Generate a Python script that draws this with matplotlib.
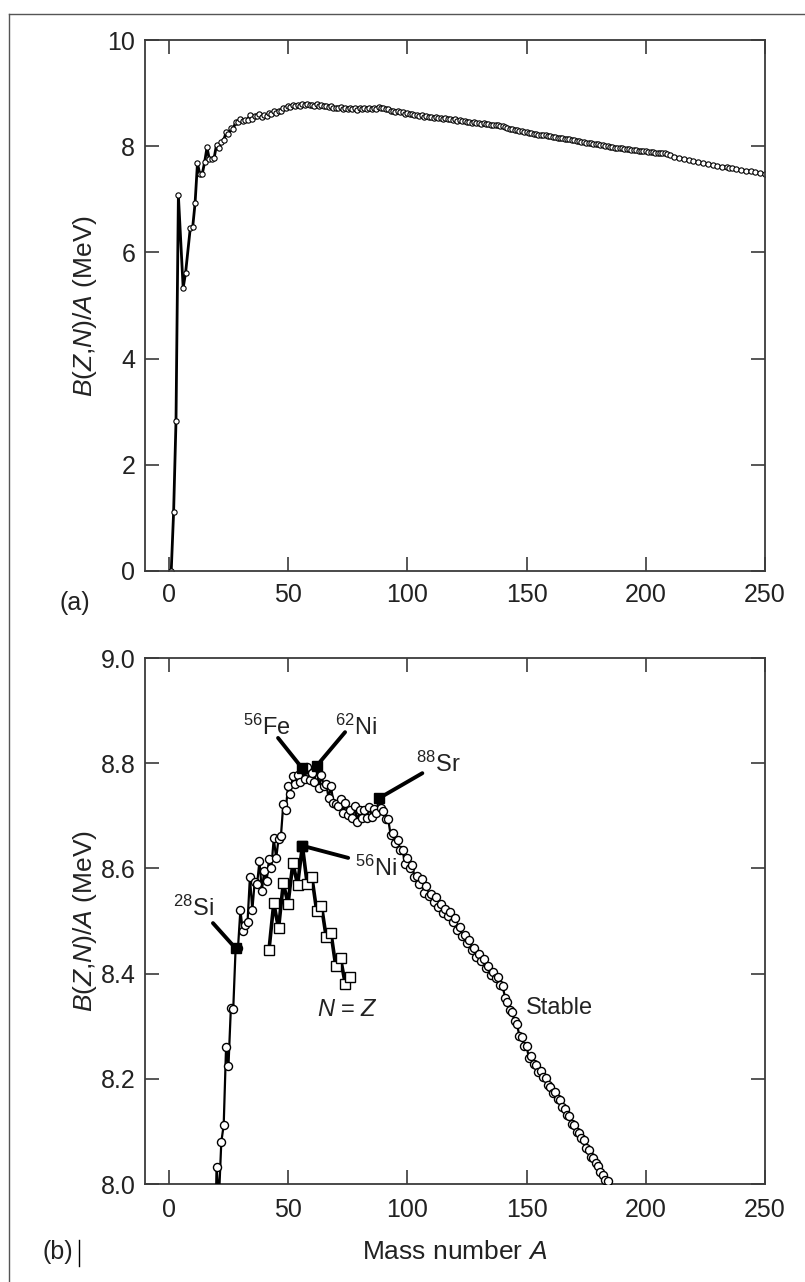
import matplotlib.pyplot as plt
from matplotlib.lines import Line2D

plt.rcParams['font.family'] = ['Liberation Sans', 'DejaVu Sans']
plt.rcParams['mathtext.fontset'] = 'custom'
plt.rcParams['mathtext.rm'] = 'Liberation Sans'
plt.rcParams['mathtext.it'] = 'Liberation Sans:italic'

# binding energy per nucleon of stable (and long-lived) nuclei, MeV
stable_A = [1, 2, 3, 4, 6, 7, 9, 10, 11, 12, 13, 14, 15, 16, 17, 18, 19, 20,
            21, 22, 23, 24, 25, 26, 27, 28, 29, 30, 31, 32, 33, 34, 35, 36, 37,
            38, 39, 40, 41, 42, 43, 44, 45, 46, 47, 48, 49, 50, 51, 52, 53, 54,
            55, 56, 57, 58, 59, 60, 61, 62, 63, 64, 65, 66, 67, 68, 69, 70, 71,
            72, 73, 74, 75, 76, 77, 78, 79, 80, 81, 82, 83, 84, 85, 86, 87, 88,
            89, 90, 91, 92, 93, 94, 95, 96, 97, 98, 99, 100, 101, 102, 103, 104,
            105, 106, 107, 108, 109, 110, 111, 112, 113, 114, 115, 116, 117, 118,
            119, 120, 121, 122, 123, 124, 125, 126, 127, 128, 129, 130, 131, 132,
            133, 134, 135, 136, 137, 138, 139, 140, 141, 142, 143, 144, 145, 146,
            147, 148, 149, 150, 151, 152, 153, 154, 155, 156, 157, 158, 159, 160,
            161, 162, 163, 164, 165, 166, 167, 168, 169, 170, 171, 172, 173, 174,
            175, 176, 177, 178, 179, 180, 181, 182, 183, 184, 185, 186, 187, 188,
            189, 190, 191, 192, 193, 194, 195, 196, 197, 198, 199, 200, 201, 202,
            203, 204, 205, 206, 207, 208, 209, 210, 212, 214, 216, 218, 220, 222,
            224, 226, 228, 230, 232, 234, 235, 236, 238, 240, 242, 244, 246, 248,
            250]
stable_BA = [0.0, 1.112, 2.827, 7.074, 5.332, 5.606, 6.463, 6.475, 6.928, 7.680,
             7.470, 7.476, 7.699, 7.976, 7.751, 7.767, 7.779, 8.032,
             7.972, 8.080, 8.112, 8.261, 8.224, 8.334, 8.332, 8.448, 8.449, 8.521,
             8.481, 8.493, 8.498, 8.584, 8.520, 8.575, 8.570,
             8.614, 8.557, 8.595, 8.576, 8.617, 8.601, 8.658, 8.619, 8.656, 8.661,
             8.723, 8.711, 8.756, 8.742, 8.776, 8.760, 8.778,
             8.765, 8.790, 8.770, 8.792, 8.768, 8.781, 8.765, 8.795, 8.752, 8.777,
             8.757, 8.760, 8.734, 8.756, 8.725, 8.722, 8.718,
             8.732, 8.705, 8.725, 8.701, 8.711, 8.695, 8.718, 8.688, 8.711, 8.696,
             8.711, 8.696, 8.717, 8.697, 8.712, 8.705, 8.733,
             8.714, 8.710, 8.693, 8.693, 8.664, 8.667, 8.649, 8.654, 8.635, 8.635,
             8.609, 8.619, 8.601, 8.607, 8.584, 8.585,
             8.571, 8.580, 8.554, 8.567, 8.548, 8.551, 8.537, 8.545, 8.527, 8.532,
             8.516, 8.523, 8.510, 8.517,
             8.499, 8.505, 8.482, 8.488, 8.472, 8.473, 8.458, 8.463, 8.445, 8.449,
             8.431, 8.438, 8.424, 8.428,
             8.410, 8.414, 8.398, 8.403, 8.392, 8.394, 8.378, 8.376, 8.354, 8.346,
             8.330, 8.327, 8.309, 8.304,
             8.281, 8.280, 8.263, 8.262, 8.240, 8.244, 8.229, 8.227, 8.213, 8.215,
             8.204, 8.202, 8.189, 8.184,
             8.173, 8.174, 8.162, 8.159, 8.147, 8.142, 8.132, 8.130, 8.115, 8.112,
             8.098, 8.097, 8.087, 8.084,
             8.069, 8.064, 8.052, 8.049, 8.039, 8.035, 8.023, 8.018, 8.008, 8.005,
             7.991, 7.989, 7.974, 7.974,
             7.963, 7.963, 7.948, 7.949, 7.938, 7.936, 7.927, 7.927, 7.916, 7.912,
             7.905, 7.906, 7.898, 7.897,
             7.886, 7.880, 7.878, 7.875, 7.870, 7.868, 7.848, 7.834, 7.804, 7.785,
             7.762, 7.740, 7.718, 7.695,
             7.678, 7.662, 7.645, 7.630, 7.615, 7.601, 7.591, 7.586, 7.570, 7.556,
             7.541, 7.525, 7.510, 7.497,
             7.482]

# N = Z nuclei
nz_A = [42, 44, 46, 48, 50, 52, 54, 56, 58, 60, 62, 64, 66, 68, 70, 72, 74, 76]
nz_BA = [8.445, 8.534, 8.486, 8.572, 8.533, 8.610, 8.569, 8.643, 8.571, 8.583,
         8.519, 8.529, 8.469, 8.477, 8.414, 8.429, 8.380, 8.394]

# highlighted nuclei
marked_names = [r'$^{28}$Si', r'$^{56}$Fe', r'$^{62}$Ni', r'$^{88}$Sr', r'$^{56}$Ni']
marked_A = [28, 56, 62, 88, 56]
marked_BA = [8.448, 8.790, 8.795, 8.733, 8.643]

fig = plt.figure(figsize=(8.05, 12.82), dpi=100)
W, H = 805.0, 1282.0

ax1 = fig.add_axes([145 / W, 1 - 571 / H, 620 / W, 531 / H])
ax2 = fig.add_axes([145 / W, 1 - 1184 / H, 620 / W, 526 / H])

for ax in (ax1, ax2):
    for s in ax.spines.values():
        s.set_color('#3a3a3a')
        s.set_linewidth(1.3)
    ax.tick_params(direction='in', length=10, width=1.2, top=True, right=True,
                   labelsize=18, colors='#3a3a3a', labelcolor='#222222')
    ax.tick_params(axis='y', pad=7)
    ax.set_xlim(-10, 250)
    ax.set_xticks([0, 50, 100, 150, 200, 250])
    ax.set_ylabel(r'$B$($Z$,$N$)/$A$ (MeV)', fontsize=19, color='#222222')
    ax.yaxis.set_label_coords(-0.074, 0.5)

# (a) full range
ax1.plot(stable_A, stable_BA, color='black', lw=2.0, marker='o', ms=3.8,
         mfc='white', mec='black', mew=0.8)
ax1.set_ylim(0, 10)
ax1.set_yticks([0, 2, 4, 6, 8, 10])
ax1.tick_params(axis='x', pad=8.5)

# (b) zoom near the maximum
ax2.plot(stable_A, stable_BA, color='black', lw=1.6, marker='o', ms=5.8,
         mfc='white', mec='black', mew=1.0, zorder=3)
ax2.plot(nz_A, nz_BA, color='black', lw=2.6, marker='s', ms=7,
         mfc='white', mec='black', mew=1.0, zorder=3)
ax2.plot(marked_A, marked_BA, ls='none', marker='s', ms=7, color='black', zorder=4)
ax2.set_ylim(8.0, 9.0)
ax2.set_yticks([8.0, 8.2, 8.4, 8.6, 8.8, 9.0])
ax2.set_yticklabels(['8.0', '8.2', '8.4', '8.6', '8.8', '9.0'])
ax2.tick_params(axis='x', pad=10)

# label text position, leader start
label_pos = [(10.1, 8.525), (41.0, 8.868), (78.5, 8.868), (113.0, 8.797), (86.8, 8.601)]
leader_start = [(18.5, 8.496), (45.8, 8.848), (73.9, 8.859), (106.3, 8.781), (75.2, 8.620)]
for name, a, b, lp, ls in zip(marked_names, marked_A, marked_BA, label_pos, leader_start):
    ax2.annotate('', xy=(a, b), xytext=ls,
                 arrowprops=dict(arrowstyle='-', lw=2.8, color='black',
                                 shrinkA=0, shrinkB=4))
    ax2.text(lp[0], lp[1], name, fontsize=17, ha='center', va='center', color='#222222')

ax2.text(74.8, 8.331, r'$N$ = $Z$', fontsize=17, ha='center', va='center', color='#222222')
ax2.text(149.6, 8.335, 'Stable', fontsize=17, ha='left', va='center', color='#222222')

fig.text(75 / W, 1 - 603 / H, '(a)', fontsize=18, ha='center', va='center', color='#222222')
fig.text(58 / W, 1 - 1252 / H, '(b)', fontsize=18, ha='center', va='center', color='#222222')
fig.add_artist(Line2D([79 / W, 79 / W], [1 - 1240 / H, 1 - 1266 / H], color='black', lw=1.0))
fig.text(455 / W, 1 - 1252 / H, r'Mass number $A$', fontsize=19, ha='center', va='center',
         color='#222222')

# page frame (left and top only)
fig.add_artist(Line2D([9 / W, 9 / W], [0, 1 - 14 / H], color='#555555', lw=1.0))
fig.add_artist(Line2D([9 / W, 1], [1 - 14 / H, 1 - 14 / H], color='#555555', lw=1.0))

fig.savefig('out.png', dpi=100)
